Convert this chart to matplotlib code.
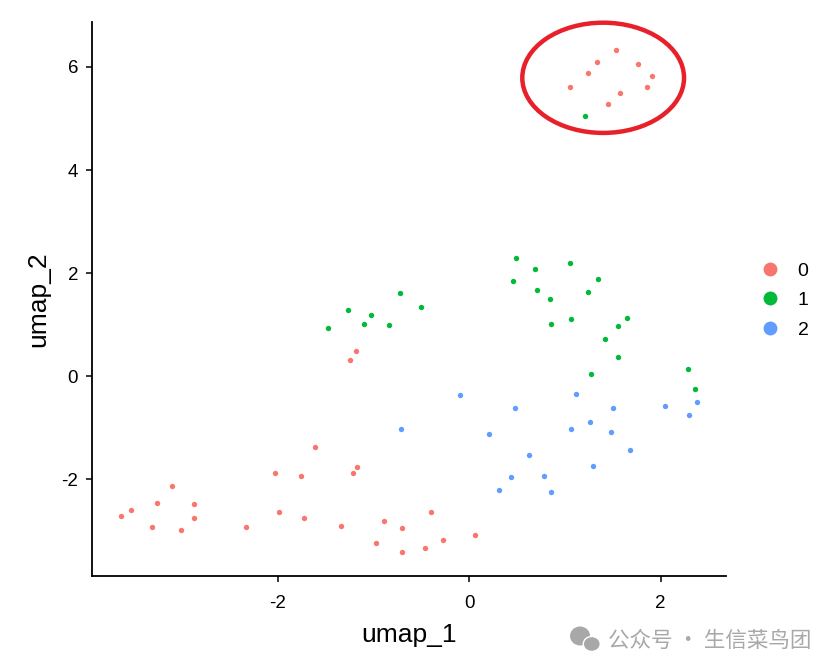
import matplotlib
matplotlib.use("Agg")
import matplotlib.pyplot as plt
from matplotlib.patches import Ellipse
from matplotlib.lines import Line2D

plt.rcParams['font.family'] = ['Liberation Sans', 'DejaVu Sans']

# cluster 0
x0 = [1.53, 1.34, 1.76, 1.24, 1.91, 1.05, 1.86, 1.58, 1.45,
      -3.64, -3.53, -3.26, -3.10, -2.88, -3.31, -3.01, -2.88, -2.33,
      -2.03, -1.76, -1.99, -1.73, -1.18, -1.24, -1.61, -1.17, -1.21,
      -1.34, -0.89, -0.70, -0.40, -0.97, -0.70, -0.46, -0.27, 0.06]
y0 = [6.33, 6.10, 6.06, 5.89, 5.83, 5.62, 5.62, 5.50, 5.29,
      -2.71, -2.60, -2.46, -2.13, -2.48, -2.93, -2.98, -2.75, -2.93,
      -1.88, -1.94, -2.64, -2.75, 0.49, 0.32, -1.37, -1.76, -1.88,
      -2.91, -2.81, -2.95, -2.63, -3.24, -3.41, -3.33, -3.18, -3.08]
# cluster 1
x1 = [1.21, -0.72, -0.50, -1.27, -1.03, -1.10, -0.84, -1.48,
      0.49, 1.05, 0.69, 1.35, 0.46, 0.71, 1.24, 0.84, 1.65, 1.06,
      0.86, 1.55, 1.42, 1.56, 1.27, 2.29, 2.36]
y1 = [5.05, 1.62, 1.35, 1.29, 1.19, 1.02, 1.00, 0.94,
      2.30, 2.20, 2.08, 1.89, 1.85, 1.68, 1.64, 1.50, 1.13, 1.11,
      1.02, 0.98, 0.72, 0.37, 0.04, 0.14, -0.25]
# cluster 2
x2 = [-0.10, -0.71, 1.12, 0.48, 1.50, 2.05, 2.38, 2.30, 1.26, 1.06,
      1.48, 0.21, 1.68, 0.62, 1.29, 0.44, 0.78, 0.31, 0.85]
y2 = [-0.36, -1.02, -0.34, -0.62, -0.62, -0.58, -0.50, -0.75, -0.89, -1.02,
      -1.08, -1.12, -1.43, -1.53, -1.74, -1.96, -1.94, -2.21, -2.25]

labels = ['0', '1', '2']
colors = ['#F8766D', '#00BA38', '#619CFF']

fig = plt.figure(figsize=(8.37, 6.72), dpi=100)
ax = fig.add_axes([0.110, 0.143, 0.757, 0.824])

for xs, ys, c in zip([x0, x1, x2], [y0, y1, y2], colors):
    ax.scatter(xs, ys, s=15, c=c, marker='o', linewidths=0, zorder=3)

ax.set_xlim(-3.94, 2.68)
ax.set_ylim(-3.88, 6.87)
ax.set_xticks([-2, 0, 2])
ax.set_yticks([-2, 0, 2, 4, 6])
ax.set_xticklabels(['-2', '0', '2'])
ax.set_yticklabels(['-2', '0', '2', '4', '6'])
for s in ['top', 'right']:
    ax.spines[s].set_visible(False)
for s in ['left', 'bottom']:
    ax.spines[s].set_linewidth(1.3)
    ax.spines[s].set_color('black')
ax.tick_params(axis='both', length=4, width=1.1, labelsize=13.5, colors='black')
ax.tick_params(axis='x', pad=10)
ax.tick_params(axis='y', pad=6)
ax.set_xlabel('umap_1', fontsize=19, labelpad=8)
ax.set_ylabel('umap_2', fontsize=19, labelpad=8)

# red annotation ellipse
ax.add_patch(Ellipse((1.40, 5.79), 1.69, 2.14, fill=False, edgecolor='#E8202A',
                     linewidth=3.2, zorder=4, clip_on=False))

handles = [Line2D([0], [0], marker='o', linestyle='', markersize=10,
                  markerfacecolor=c, markeredgewidth=0) for c in colors]
fig.legend(handles, labels, loc='center left', bbox_to_anchor=(0.888, 0.553),
           frameon=False, fontsize=14, handletextpad=0.9, labelspacing=0.62,
           handlelength=1.0)

# watermark
wm_color = '#A8A8A8'
fig.patches.append(Ellipse((0.693, 0.0536), 20 / 837, 19 / 672, transform=fig.transFigure,
                           facecolor=wm_color, edgecolor='none'))
fig.patches.append(Ellipse((0.707, 0.0417), 17 / 837, 15 / 672, transform=fig.transFigure,
                           facecolor=wm_color, edgecolor='white', linewidth=1))
fig.text(0.726, 0.046, '公众号 · 生信菜鸟团', fontsize=15.5, color=wm_color,
         family=['Noto Sans CJK SC', 'DejaVu Sans'], va='center', ha='left')

fig.savefig('out.png', dpi=100, facecolor='white')
